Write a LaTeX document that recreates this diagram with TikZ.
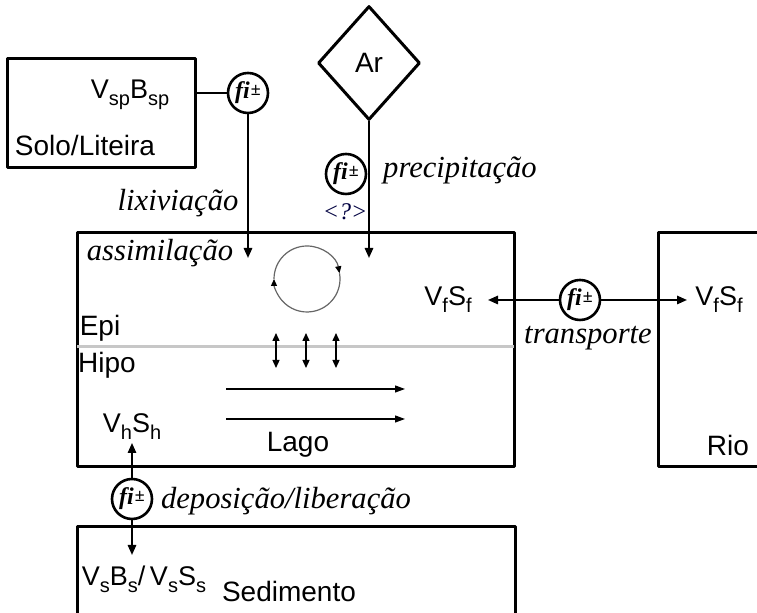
\documentclass[tikz,border=0pt]{standalone}
\usepackage{fontspec}
\setmainfont{Liberation Sans}
\newfontfamily\serifa{Liberation Serif}
\usetikzlibrary{arrows.meta,shapes.geometric,positioning}

\newcommand{\ind}[1]{\raisebox{-0.5ex}{\fontsize{10}{10}\selectfont #1}}
\newcommand{\fimais}{fi\kern0.5pt{\upshape\fontsize{9}{9}\selectfont\raisebox{0.35ex}{±}}}

\tikzset{
	caixa/.style={draw, rectangle, line width=1.5pt, inner sep=0pt},
	fluxo/.style={draw, circle, line width=1.3pt, minimum size=20pt, inner sep=0pt,
		font=\serifa\bfseries\itshape\fontsize{12}{12}\selectfont},
	processo/.style={font=\serifa\itshape\fontsize{15.3}{17}\selectfont, inner sep=0pt},
	comp/.style={font=\fontsize{14}{16}\selectfont, inner sep=0pt},
	var/.style={font=\fontsize{13.5}{15}\selectfont, inner sep=0pt},
	liga/.style={line width=0.9pt}
}

\begin{document}
\begin{tikzpicture}[x=0.5pt, y=-0.5pt, line join=round, >={Triangle[length=5pt,width=4.2pt]}]

	\useasboundingbox (0,0) rectangle (757,613);
	\clip (0,0) rectangle (757,613);

	% Compartimentos
	\node[caixa, minimum width=94pt, minimum height=54.5pt] (solo) at (101,113.5) {};
	\node[caixa, minimum width=218.5pt, minimum height=117pt] (lago) at (295.5,350) {};
	\node[caixa, minimum width=80pt, minimum height=117pt] (rio) at (738,350) {};
	\node[caixa, minimum width=219pt, minimum height=65pt] (sed) at (296,592) {};
	\node[draw, diamond, line width=1.5pt, minimum width=51pt, minimum height=57pt, inner sep=0pt,
		font=\fontsize{14}{16}\selectfont] (ar) at (369,63) {Ar};

	% Fluxos fi
	\node[fluxo] (f1) at (248,93) {\fimais};
	\node[fluxo] (f2) at (346,174) {\fimais};
	\node[fluxo] (f3) at (580,300) {\fimais};
	\node[fluxo] (f4) at (132,499) {\fimais};

	% Pontas das setas
	\coordinate (a1) at (248,258);
	\coordinate (a2) at (369,258);
	\coordinate (t1) at (488,300);
	\coordinate (t2) at (687,300);
	\coordinate (h1) at (132,443);
	\coordinate (s1) at (132,555);

	\draw[liga] (f1.west) -- (f1.west -| solo.east);
	\draw[liga,->] (f1.south) -- (a1);
	\draw[liga,->] (ar.south) -- (a2);
	\draw[liga,->] (f3.west) -- (t1);
	\draw[liga,->] (f3.east) -- (t2);
	\draw[liga,->] (f4.north) -- (h1);
	\draw[liga,->] (f4.south) -- (s1);

	% Epilimnio / hipolimnio
	\coordinate (e1) at (77,347);
	\coordinate (e2) at (514,347);
	\draw[line width=1.5pt, black!22] (e1) -- (e2);

	% Circulacao
	\coordinate (giro) at (307,279);
	\draw[black!60, line width=0.6pt, -{Triangle[length=3.5pt,width=3pt,color=black]}] ([shift={(-10:33)}]giro) arc[start angle=-10, end angle=180, radius=33];
	\draw[black!60, line width=0.6pt, -{Triangle[length=3.5pt,width=3pt,color=black]}] ([shift={(180:33)}]giro) arc[start angle=180, end angle=350, radius=33];

	\foreach \x in {276,306,336} {
		\draw[line width=0.7pt, {Triangle[length=4pt,width=3.5pt]}-{Triangle[length=4pt,width=3.5pt]}] (\x,333) -- (\x,368);
	}
	\foreach \y in {389,419} {
		\draw[line width=0.6pt, -{Triangle[length=5pt,width=3.5pt]}] (226,\y) -- (405,\y);
	}

	% Rotulos
	\node[var] (vsp) at (130,95) {V\ind{sp}B\ind{sp}};
	\node[comp] (tsolo) at (85,146) {Solo/Liteira};
	\node[processo] (lix) at (178,203) {lixiviação};
	\node[processo] (prec) at (460,170) {precipitação};
	\node[font=\serifa\itshape\fontsize{12}{12}\selectfont, text=black!75!blue] (duv) at (345,212) {<?>};
	\node[processo] (assim) at (160,253) {assimilação};
	\node[var] (vf1) at (448,300) {V\ind{f}S\ind{f}};
	\node[var] (vf2) at (719,300) {V\ind{f}S\ind{f}};
	\node[processo] (transp) at (588,338) {transporte};
	\node[comp] (epi) at (100,328) {Epi};
	\node[comp] (hipo) at (107,365) {Hipo};
	\node[var] (vh) at (132,427) {V\ind{h}S\ind{h}};
	\node[comp] (tlago) at (298,445) {Lago};
	\node[comp] (trio) at (728,446) {Rio};
	\node[processo] (dep) at (286,501) {deposição/liberação};
	\node[var] (vs) at (144,579) {V\ind{s}B\ind{s}/\,V\ind{s}S\ind{s}};
	\node[comp] (tsed) at (289,592) {Sedimento};

\end{tikzpicture}
\end{document}
